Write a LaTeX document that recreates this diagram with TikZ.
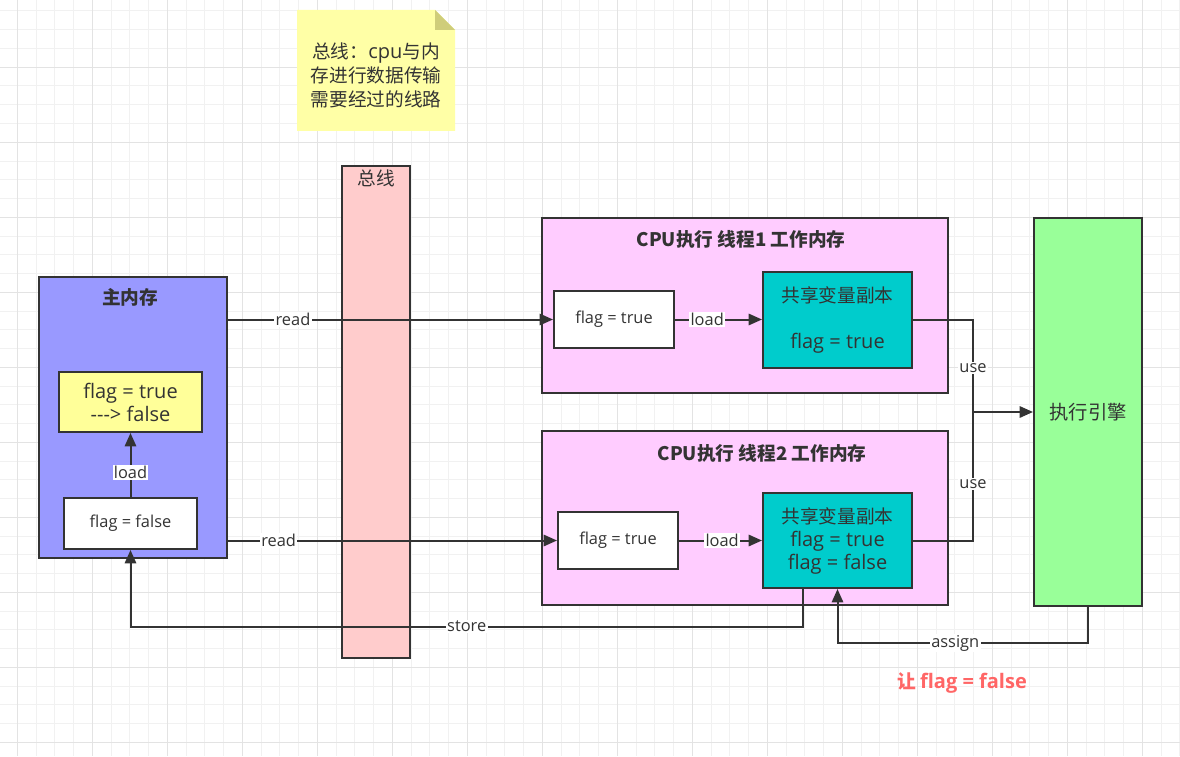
\documentclass[tikz,border=0pt]{standalone}
\usepackage{fontspec}
\setmainfont{Noto Sans CJK SC}
\newfontfamily\lat{Open Sans}
\usetikzlibrary{arrows.meta,calc}

\definecolor{linec}{HTML}{333333}
\definecolor{txt}{HTML}{333333}
\definecolor{mainc}{HTML}{9999FF}
\definecolor{yel}{HTML}{FFFF99}
\definecolor{busc}{HTML}{FFCCCC}
\definecolor{cpuc}{HTML}{FFCCFF}
\definecolor{tealc}{HTML}{00CCCC}
\definecolor{execc}{HTML}{99FF99}
\definecolor{notec}{HTML}{FFFFA6}
\definecolor{foldc}{HTML}{CFCD7A}
\definecolor{redc}{HTML}{FF6666}
\definecolor{gridminor}{HTML}{F1F1F1}
\definecolor{gridmajor}{HTML}{E3E3E3}

\newcommand\fbig{\fontsize{14}{17.25}\selectfont}
\newcommand\fbiglat{\fontsize{15}{17.25}\selectfont\lat}
\newcommand\fsmall{\fontsize{12.3}{14}\selectfont\lat}

\begin{document}
\begin{tikzpicture}[x=0.75pt,y=-0.75pt,
  box/.style={draw=linec,line width=1.5pt,inner sep=0pt,align=center,text=txt},
  sz/.style 2 args={minimum width=#1*0.75pt,minimum height=#2*0.75pt},
  title/.style={font=\fontsize{14}{17}\selectfont\bfseries,text=txt,inner sep=0pt},
  plain/.style={font=\fbig,text=txt,inner sep=0pt,align=center},
  lbl/.style={fill=white,font=\fsmall,text=txt,inner sep=1pt},
  conn/.style={draw=linec,line width=1.5pt},
  arr/.style={conn,-{Triangle[length=10pt,width=8.5pt]}},
  minorg/.style={draw=gridminor,line width=0.75pt},
  majorg/.style={draw=gridmajor,line width=0.75pt}]
\useasboundingbox (0,0) rectangle (1180,756);
\fill[white] (0,0) rectangle (1180,756);

% background grid
\foreach \i in {0,...,63} \draw[minorg] ({-1.45+18.75*\i},0) -- ({-1.45+18.75*\i},756);
\foreach \i in {0,...,41} \draw[minorg] (0,{-7.75+18.75*\i}) -- (1180,{-7.75+18.75*\i});
\foreach \i in {0,...,15} \draw[majorg] ({17.3+75*\i},0) -- ({17.3+75*\i},756);
\foreach \i in {0,...,10} \draw[majorg] (0,{-7.7+75*\i}) -- (1180,{-7.7+75*\i});

% sticky note
\fill[notec] (297,10) -- (435,10) -- (455,30) -- (455,131) -- (297,131) -- cycle;
\fill[foldc] (435,10) -- (455,30) -- (435,30) -- cycle;
\node[plain,font=\fontsize{14}{18}\selectfont] (note) at (376,75) {总线：{\fontsize{15}{18}\selectfont\lat cpu}与内\\存进行数据传输\\需要经过的线路};

% bus
\node[box,fill=busc,sz={68}{492}] (bus) at (376,412) {};
\node[plain] (bust) at (376,178) {总线};

% main memory
\node[box,fill=mainc,sz={188}{281}] (mainmem) at (133,417.5) {};
\node[title] (maint) at (130,297) {主内存};
\node[box,fill=yel,sz={143}{60},font=\fbiglat] (mflagy) at (130.5,402) {flag = true\\\mbox{-}\mbox{-}\mbox{-}> false};
\node[box,fill=white,sz={133}{51},font=\fsmall] (mflag) at (130.5,523.5) {flag = false};

% thread 1 working memory
\node[box,fill=cpuc,sz={406}{174.5}] (cpu1) at (744.5,305.25) {};
\node[title] (cpu1t) at (741,239.5) {CPU执行 线程1 工作内存};
\node[box,fill=white,sz={120}{57},font=\fsmall] (w1) at (614,319.5) {flag = true};
\node[box,fill=tealc,sz={149}{96},font=\fbig] (t1) at (837.5,320) {共享变量副本\\[17.25pt]{\fbiglat flag = true}};

% thread 2 working memory
\node[box,fill=cpuc,sz={406}{174}] (cpu2) at (744.5,518) {};
\node[title] (cpu2t) at (762,453.5) {CPU执行 线程2 工作内存};
\node[box,fill=white,sz={120}{57},font=\fsmall] (w2) at (618,540.5) {flag = true};
\node[box,fill=tealc,sz={149}{95},font=\fbig] (t2) at (837.5,540.5) {共享变量副本\\{\fbiglat flag = true}\\{\fbiglat flag = false}};

% execution engine
\node[box,fill=execc,sz={108}{388},font=\fontsize{14.5}{17}\selectfont] (exec) at (1088,412) {执行引擎};

\node[font=\fontsize{14}{17}\selectfont\bfseries,text=redc,inner sep=0pt] (note2) at (962,683) {让 {\fontsize{15}{17}\selectfont\lat\bfseries flag = false}};

% connectors
\draw[arr] (mflag.north) -- node[lbl,pos=0.38]{load} (mflagy.south);
\draw[arr] (mainmem.east |- w1.west) -- node[lbl,pos=0.2]{read} (w1.west);
\draw[arr] (mainmem.east |- w2.west) -- node[lbl,pos=0.154]{read} (w2.west);
\draw[arr] (w1.east) -- node[lbl,pos=0.37]{load} (t1.west |- w1.east);
\draw[arr] (w2.east) -- node[lbl,pos=0.52]{load} (t2.west |- w2.east);

\coordinate (join) at (973,412);
\draw[conn] (t1.east) -| node[lbl,pos=0.76]{use} (join);
\draw[conn] (t2.east) -| node[lbl,pos=0.72]{use} (join);
\draw[arr] (join) -- (exec.west);

\draw[arr] ([xshift=-34.5*0.75pt]t2.south) -- ++(0,37.5) -| node[lbl,pos=0.25]{store} (mflag.south);
\draw[arr] (exec.south) -- ++(0,36) -| node[lbl,pos=0.265]{assign} (t2.south);
\end{tikzpicture}
\end{document}
